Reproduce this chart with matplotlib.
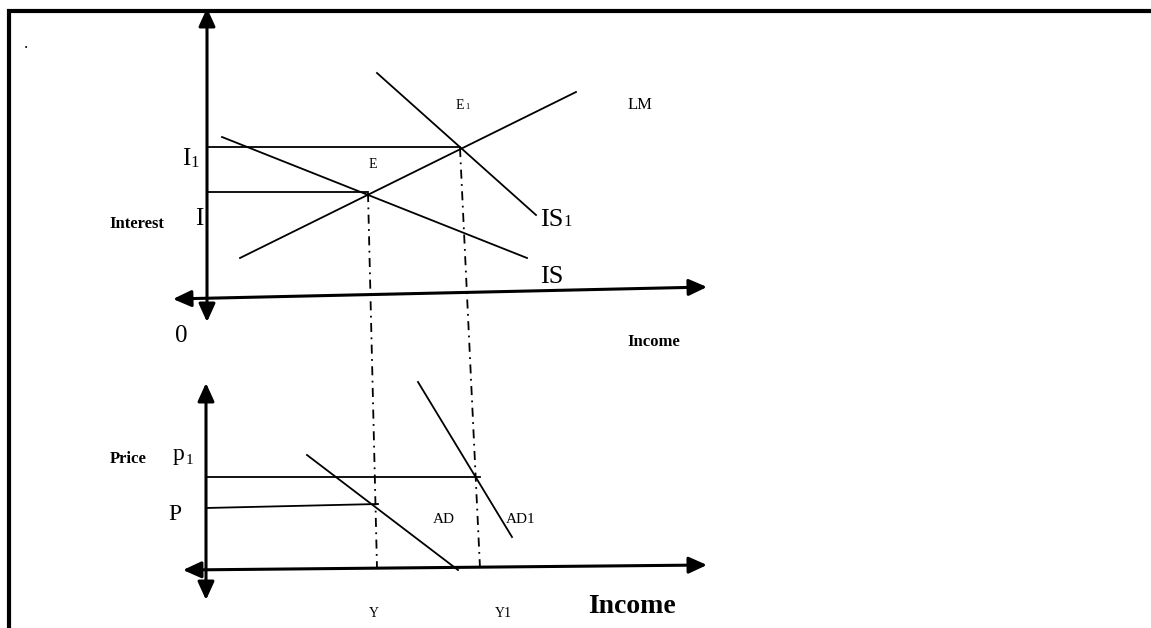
import matplotlib
matplotlib.use("Agg")
import matplotlib.pyplot as plt
from matplotlib.patches import FancyArrowPatch

plt.rcParams['font.family'] = ['Liberation Serif', 'DejaVu Serif']

# diagram drawn in pixel space of the page (x right, y down)
# axes: start and end points
eixo_y_sup = [(207, 322), (207, 8)]
eixo_x_sup = [(173, 299), (707, 287)]
eixo_y_inf = [(206, 600), (206, 383)]
eixo_x_inf = [(183, 570), (707, 565)]

# curves
IS_x, IS_y = [222, 527], [137, 258]
IS1_x, IS1_y = [377, 536], [73, 215]
LM_x, LM_y = [240, 576], [258, 92]
AD_x, AD_y = [307, 458], [455, 570]
AD1_x, AD1_y = [418, 512], [382, 537]

# horizontal guide lines (interest / price levels)
guia_I1 = [(207, 147), (460, 147)]
guia_I = [(207, 192), (368, 192)]
guia_p1 = [(206, 477), (480, 477)]
guia_P = [(206, 508), (378, 504)]

# dash-dot projections from equilibria down to income
proj_Y = [(368, 193), (377, 568)]
proj_Y1 = [(460, 148), (480, 568)]

# labels: text, x, baseline y, size, bold
rotulos = [
    ('.', 26, 48, 12, False),
    ('Interest', 137, 228, 12, True),
    ('I', 199, 225, 18, False),
    ('I', 186, 165, 18, False),
    ('1', 195, 167, 12, False),
    ('E', 373, 168, 10, False),
    ('E', 460, 109, 10, False),
    ('1', 467, 109, 6, False),
    ('LM', 640, 109, 12, False),
    ('IS', 552, 226, 19, False),
    ('1', 568, 226, 12, False),
    ('IS', 552, 283, 19, False),
    ('0', 181, 342, 18, False),
    ('Income', 654, 346, 12, True),
    ('Price', 128, 463, 12, True),
    ('p', 179, 460, 17, False),
    ('1', 189, 464, 11, False),
    ('P', 175, 520, 17, False),
    ('AD', 444, 523, 11, False),
    ('AD1', 521, 523, 11, False),
    ('Y', 374, 617, 10, False),
    ('Y1', 503, 617, 10, False),
    ('Income', 632, 613, 20, True),
]

fig = plt.figure(figsize=(11.51, 6.28), dpi=100)
ax = fig.add_axes([0, 0, 1, 1])
ax.set_xlim(0, 1151)
ax.set_ylim(628, 0)
ax.axis('off')

# page border (left and top)
ax.plot([9, 9, 1151], [628, 11, 11], color='black', lw=3, solid_joinstyle='miter')

# axes with arrow heads on both ends
for a, b in [eixo_y_sup, eixo_x_sup, eixo_y_inf, eixo_x_inf]:
    seta = FancyArrowPatch(a, b, arrowstyle='<|-|>,head_length=1.1,head_width=0.5',
                           mutation_scale=10, lw=2.2, color='black',
                           shrinkA=0, shrinkB=0)
    ax.add_patch(seta)

for xs, ys in [(IS_x, IS_y), (IS1_x, IS1_y), (LM_x, LM_y), (AD_x, AD_y), (AD1_x, AD1_y)]:
    ax.plot(xs, ys, color='black', lw=1.3)

for g in [guia_I1, guia_I, guia_p1, guia_P]:
    ax.plot([g[0][0], g[1][0]], [g[0][1], g[1][1]], color='black', lw=1.3)

for p in [proj_Y, proj_Y1]:
    ax.plot([p[0][0], p[1][0]], [p[0][1], p[1][1]], color='black', lw=1.3,
            dashes=(5, 3, 1, 3))

for txt, x, y, s, negrito in rotulos:
    ax.text(x, y, txt, fontsize=s, ha='center', va='baseline',
            fontweight='bold' if negrito else 'normal')

fig.savefig('out.png', dpi=100)
